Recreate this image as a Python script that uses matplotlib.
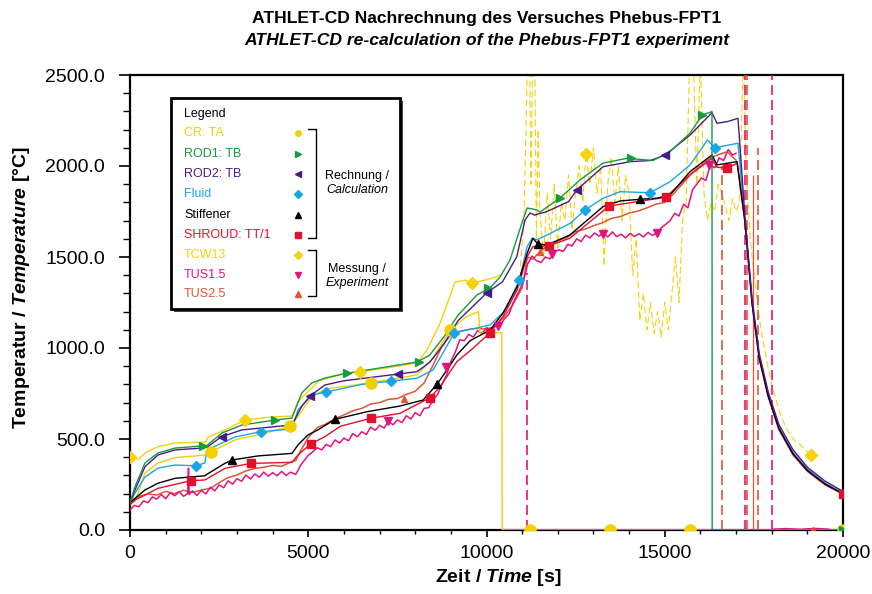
import matplotlib
matplotlib.use("Agg")
import matplotlib.pyplot as plt
from matplotlib.patches import Rectangle
from matplotlib.ticker import MultipleLocator, FormatStrFormatter

plt.rcParams['font.family'] = ['Liberation Sans', 'DejaVu Sans']
plt.rcParams['mathtext.fontset'] = 'custom'
plt.rcParams['mathtext.rm'] = 'Liberation Sans'
plt.rcParams['mathtext.it'] = 'Liberation Sans:italic'
plt.rcParams['mathtext.bf'] = 'Liberation Sans:bold'
plt.rcParams['mathtext.bfit'] = 'Liberation Sans:italic:bold'

W, H = 872, 594

# ---- data: (time [s], temperature [C]) ----
cr_ta = [(0, 150), (140, 156), (420, 313), (785, 368), (1260, 397), (2100, 412),
         (2190, 425), (2270, 430), (2945, 495), (3800, 533), (4490, 571), (4700, 620),
         (5100, 733), (5500, 775), (6750, 809), (8050, 852), (8500, 945), (8980, 1099),
         (9440, 1172), (9780, 1200), (9810, 1082), (10430, 1085), (10440, 0), (20000, 0)]

rod1 = [(0, 150), (140, 238), (420, 368), (785, 423), (1260, 450), (2020, 462),
        (2160, 465), (2580, 533), (3140, 577), (4070, 604), (4540, 615), (4820, 753),
        (5100, 808), (5470, 835), (5975, 857), (7000, 890), (8050, 923), (8400, 960),
        (8800, 1060), (9200, 1180), (9730, 1291), (10100, 1330), (10380, 1390),
        (10660, 1484), (11020, 1703), (11140, 1769), (11280, 1764), (11420, 1758),
        (11500, 1747), (12060, 1824), (12620, 1923), (13270, 2016), (13940, 2042),
        (14670, 2030), (15150, 2079), (15710, 2181), (16050, 2280), (16325, 2299),
        (16330, 0), (20000, 0)]

rod2 = [(0, 150), (140, 220), (420, 348), (785, 412), (1260, 440), (2020, 450),
        (2160, 455), (2570, 513), (3140, 550), (4540, 577), (4820, 680), (5050, 736),
        (5470, 797), (6000, 820), (7527, 857), (8050, 870), (8400, 920), (8800, 1020),
        (9200, 1150), (9730, 1250), (10015, 1304), (10450, 1364), (10850, 1502),
        (11080, 1703), (11220, 1742), (11350, 1730), (11500, 1740), (11640, 1745),
        (12300, 1804), (12530, 1868), (13270, 1996), (14030, 2024), (14600, 2030),
        (15010, 2060), (15710, 2170), (16325, 2293), (16465, 2235), (16760, 2244),
        (17054, 2262), (17250, 1720), (17450, 1270), (17650, 970), (17900, 760),
        (18200, 580), (18600, 440), (19000, 345), (19500, 268), (20000, 212)]

fluid = [(0, 150), (140, 203), (420, 291), (785, 340), (1262, 357), (1840, 353),
         (2100, 368), (2160, 440), (2945, 511), (3665, 540), (4545, 555), (4710, 659),
         (5105, 742), (5500, 758), (6500, 800), (7310, 818), (8050, 834), (8500, 879),
         (8800, 980), (9090, 1081), (9450, 1099), (9730, 1110), (10100, 1127),
         (10540, 1209), (10920, 1374), (11140, 1557), (11280, 1603), (11420, 1595),
         (11700, 1621), (12350, 1685), (12760, 1758), (13270, 1823), (13750, 1859),
         (14590, 1853), (15150, 1914), (15710, 2006), (16200, 2143), (16410, 2097),
         (16550, 2106), (17054, 2125), (17250, 1705), (17450, 1255), (17650, 955),
         (17900, 745), (18200, 565), (18600, 425), (19000, 335), (19500, 258), (20000, 203)]

stiffener = [(0, 150), (140, 174), (420, 220), (785, 257), (1262, 284), (2100, 298),
             (2190, 310), (2660, 366), (2870, 385), (3590, 407), (4545, 421), (4710, 467),
             (4990, 522), (5270, 550), (5750, 608), (6650, 650), (7570, 681), (8220, 714),
             (8610, 800), (8890, 879), (9170, 962), (9540, 1040), (10100, 1099),
             (10460, 1191), (10860, 1337), (11140, 1520), (11300, 1603), (11440, 1572),
             (11700, 1566), (12340, 1621), (13270, 1777), (13750, 1808), (14300, 1817),
             (14780, 1823), (15150, 1841), (15710, 1969), (16325, 2061), (16465, 2006),
             (16750, 2015), (17030, 2024), (17250, 1695), (17450, 1245), (17650, 945),
             (17900, 738), (18200, 558), (18600, 418), (19000, 328), (19500, 252), (20000, 199)]

shroud = [(0, 140), (140, 165), (420, 192), (785, 229), (1711, 271), (2100, 275),
          (2190, 285), (2665, 339), (3385, 366), (4545, 372), (4712, 412), (5068, 473),
          (5470, 513), (5900, 570), (6760, 614), (7570, 641), (8415, 727), (8700, 788),
          (9170, 925), (9620, 998), (10098, 1084), (10460, 1172), (10860, 1319),
          (11140, 1502), (11300, 1557), (11750, 1562), (12340, 1603), (13435, 1780),
          (14220, 1804), (15025, 1828), (15710, 1951), (16325, 2042), (16465, 1993),
          (16755, 1988), (17030, 2015), (17250, 1690), (17450, 1240), (17650, 940),
          (17900, 732), (18200, 552), (18600, 412), (19000, 322), (19500, 248), (20000, 197)]

tcw13 = [(0, 403), (240, 388), (420, 423), (785, 458), (1260, 478), (2100, 483),
         (2190, 510), (2660, 550), (3226, 604), (3900, 620), (4545, 626), (4710, 705),
         (4990, 760), (5300, 820), (6000, 860), (6450, 870), (7200, 890), (8050, 918),
         (8330, 989), (8700, 1137), (9120, 1362), (9400, 1373), (9590, 1357),
         (10100, 1380), (10380, 1400)]

tcw13_late = [(10950, 1450), (11050, 1700), (11150, 2600), (11200, 2700), (11250, 1900),
              (11300, 2700), (11350, 2650), (11400, 1600), (11450, 2200), (11500, 1750),
              (11600, 1500), (11700, 1850), (11800, 1600), (11900, 1900), (12000, 1550),
              (12100, 1800), (12200, 1700), (12300, 1950), (12400, 1650), (12500, 1850),
              (12600, 2000), (12700, 1800), (12790, 2066), (12900, 1900), (13000, 2100),
              (13100, 1850), (13200, 2000), (13300, 1450), (13400, 1900), (13500, 2050),
              (13600, 1800), (13700, 2000), (13800, 1700), (13900, 1950), (14000, 1850),
              (14100, 1400), (14200, 1600), (14300, 1150), (14400, 1300), (14500, 1100),
              (14600, 1250), (14700, 1080), (14800, 1200), (14900, 1060), (15000, 1250),
              (15100, 1100), (15200, 1300), (15300, 1500), (15400, 1250), (15500, 1700),
              (15600, 1800), (15700, 2600), (15800, 2600), (15900, 1900), (16000, 2600),
              (16100, 1850), (16200, 1700), (16300, 1800), (16400, 1750), (16500, 1900),
              (16600, 1850), (16700, 1780), (16800, 1700), (16900, 1820), (17000, 1750),
              (17100, 1800), (17200, 2600), (17300, 1900), (17400, 1600), (17500, 1412),
              (17600, 1250), (17700, 1100), (17850, 940), (18000, 800), (18200, 660),
              (18400, 560), (18600, 500), (18800, 470), (19000, 430), (19100, 412)]

tus15 = [(0, 110), (120, 135), (250, 128), (380, 160), (500, 150), (630, 182), (750, 170),
         (880, 195), (1000, 172), (1130, 205), (1250, 188), (1380, 210), (1500, 185),
         (1620, 200), (1640, 340), (1660, 195), (1750, 215), (1880, 190), (2000, 218),
         (2130, 198), (2250, 235), (2380, 215), (2500, 248), (2630, 232), (2750, 270),
         (2880, 252), (3000, 282), (3130, 268), (3250, 302), (3380, 280), (3500, 308),
         (3630, 290), (3750, 318), (3880, 296), (4000, 315), (4130, 298), (4250, 322),
         (4380, 300), (4500, 318), (4650, 305), (4800, 360), (4900, 385), (5000, 410),
         (5130, 430), (5250, 452), (5380, 440), (5500, 470), (5630, 458), (5750, 495),
         (5880, 478), (6000, 505), (6130, 490), (6250, 530), (6380, 512), (6500, 540),
         (6630, 525), (6750, 565), (6880, 548), (7000, 575), (7130, 560), (7250, 598),
         (7380, 578), (7500, 605), (7630, 590), (7750, 628), (7880, 610), (8000, 645),
         (8130, 628), (8250, 668), (8380, 672), (8500, 715), (8630, 745), (8750, 800),
         (8880, 850), (9000, 925), (9130, 980), (9250, 1045), (9380, 1040), (9500, 1075),
         (9630, 1060), (9750, 1095), (9880, 1080), (10000, 1112), (10130, 1098),
         (10250, 1125), (10380, 1118), (10500, 1160), (10630, 1185), (10750, 1250),
         (10880, 1300), (11000, 1350), (11100, 1412), (11150, 1460), (11280, 1505),
         (11400, 1480), (11530, 1470), (11650, 1500), (11780, 1490), (11900, 1525),
         (12030, 1540), (12150, 1530), (12280, 1570), (12400, 1560), (12530, 1600),
         (12650, 1585), (12780, 1620), (12900, 1605), (13030, 1632), (13150, 1615),
         (13280, 1630), (13400, 1610), (13530, 1638), (13650, 1612), (13780, 1625),
         (13900, 1605), (14030, 1630), (14150, 1612), (14280, 1628), (14400, 1610),
         (14530, 1635), (14650, 1618), (14780, 1632), (14900, 1660), (15030, 1680),
         (15150, 1700), (15280, 1740), (15400, 1725), (15530, 1790), (15650, 1770),
         (15780, 1870), (15900, 1900), (16030, 1935), (16150, 1920), (16280, 2005),
         (16400, 1990), (16530, 2045), (16650, 2030), (16780, 2090), (16900, 2060),
         (17000, 2070)]

tus25 = [(0, 140), (250, 185), (500, 198), (750, 192), (1000, 212), (1250, 200),
         (1500, 218), (1750, 206), (2000, 220), (2250, 228), (2500, 260), (2750, 288),
         (3000, 302), (3250, 325), (3500, 338), (3750, 345), (4000, 355), (4250, 350),
         (4500, 372), (4650, 382), (4800, 440), (5000, 508), (5250, 562), (5500, 583),
         (5750, 612), (6000, 632), (6250, 655), (6500, 668), (6750, 692), (7000, 700),
         (7250, 718), (7500, 722), (7750, 745), (8000, 762), (8250, 808), (8500, 905),
         (8750, 1010), (9000, 1072), (9250, 1092), (9500, 1102), (9750, 1108),
         (10000, 1104), (10250, 1118), (10500, 1172), (10750, 1242), (11000, 1330),
         (11150, 1500), (11300, 1488), (11500, 1530), (11750, 1568), (12000, 1588),
         (12250, 1606), (12500, 1640), (12750, 1652), (13000, 1672), (13250, 1688),
         (13500, 1712), (13750, 1722), (14000, 1742), (14250, 1752), (14500, 1770),
         (14750, 1790), (15000, 1800), (15250, 1848), (15500, 1902), (15750, 1960),
         (16000, 2000), (16250, 2042), (16500, 2062), (16750, 2078), (17000, 2032)]

# sensor drop-outs (time, top of the dashed vertical)
tus15_drops = [(11125, 1412), (17250, 2600), (18000, 2600)]
tus25_drops = [(16615, 2000), (17315, 2600), (17615, 2100)]
tus25_spike = [(17485, 1950)]
tus_tail = [(18050, 5), (18400, 8), (18800, 4), (19200, 9), (19600, 5)]

# marker positions
cr_marks = [(2270, 430), (4490, 571), (6750, 809), (8980, 1099), (11220, 0),
            (13460, 0), (15700, 0), (20000, 0)]
rod1_marks = [(2050, 462), (4060, 604), (6080, 862), (8100, 925), (10040, 1330),
              (12060, 1824), (14040, 2042), (16040, 2280), (20000, 0)]
rod2_marks = [(2570, 513), (5050, 736), (7527, 857), (10015, 1304), (12530, 1868),
              (15010, 2060), (20000, 212)]
fluid_marks = [(1840, 353), (3665, 540), (5500, 758), (7310, 818), (9090, 1081),
               (10920, 1374), (12760, 1758), (14590, 1853), (16410, 2097)]
stiff_marks = [(2870, 385), (5750, 608), (8600, 800), (11455, 1572), (14300, 1817)]
shroud_marks = [(1711, 271), (3385, 366), (5068, 473), (6760, 614), (8415, 727),
                (10098, 1084), (11750, 1562), (13435, 1780), (15025, 1828),
                (16755, 1988), (20000, 197)]
tcw_marks = [(0, 403), (3226, 604), (6450, 870), (9590, 1357), (12790, 2066), (19100, 412)]
tus15_marks = [(7250, 598), (8850, 898), (10330, 1121), (11830, 1515), (13280, 1625),
               (14775, 1630), (16240, 2005)]
tus25_marks = [(7690, 720), (11500, 1529), (19160, 0)]

# ---- styles ----
C_CR = '#f2cf00'
C_ROD1 = '#17993e'
C_ROD2 = '#4a1a8c'
C_FLUID = '#1aa6e6'
C_STIFF = '#000000'
C_SHROUD = '#e3102c'
C_TCW = '#f5d20a'
C_TUS15 = '#e2147c'
C_TUS25 = '#e05538'

legend_rows = [
    ('CR: TA', C_CR, 'o'),
    ('ROD1: TB', C_ROD1, '>'),
    ('ROD2: TB', C_ROD2, '<'),
    ('Fluid', C_FLUID, 'D'),
    ('Stiffener', C_STIFF, '^'),
    ('SHROUD: TT/1', C_SHROUD, 's'),
    ('TCW13', C_TCW, 'D'),
    ('TUS1.5', C_TUS15, 'v'),
    ('TUS2.5', C_TUS25, '^'),
]


def xy(pairs):
    return [p[0] for p in pairs], [p[1] for p in pairs]


fig = plt.figure(figsize=(W / 100, H / 100), dpi=100)
ax = fig.add_axes([130 / W, 1 - 530 / H, 713 / W, 455 / H])

dash = (0, (6, 3))
ax.plot(*xy(tcw13_late), color=C_TCW, lw=0.8, ls=dash, zorder=2)
ax.plot(*xy(tus25), color=C_TUS25, lw=1.1, zorder=3)
ax.plot(*xy(tus15), color=C_TUS15, lw=1.1, zorder=3)
ax.plot(*xy(tus_tail), color=C_TUS15, lw=1.0, zorder=3)
t, v = xy(tus15_drops)
ax.vlines(t, 0, v, colors=C_TUS15, linestyles=dash, lw=1.2, zorder=3)
t, v = xy(tus25_drops)
ax.vlines(t, 0, v, colors=C_TUS25, linestyles=dash, lw=1.2, zorder=3)
t, v = xy(tus25_spike)
ax.vlines(t, 0, v, colors=C_TUS25, lw=0.9, zorder=3)
ax.plot(*xy(tcw13), color=C_TCW, lw=1.0, zorder=4)

for data, col in [(cr_ta, C_CR), (fluid, C_FLUID), (shroud, C_SHROUD),
                  (stiffener, C_STIFF), (rod2, C_ROD2), (rod1, C_ROD1)]:
    ax.plot(*xy(data), color=col, lw=1.0, zorder=5)

marker_sets = [(cr_marks, C_CR, 'o', 8), (rod1_marks, C_ROD1, '>', 6),
               (rod2_marks, C_ROD2, '<', 6), (fluid_marks, C_FLUID, 'D', 5.5),
               (stiff_marks, C_STIFF, '^', 6), (shroud_marks, C_SHROUD, 's', 6),
               (tcw_marks, C_TCW, 'D', 6), (tus15_marks, C_TUS15, 'v', 6),
               (tus25_marks, C_TUS25, '^', 5)]
for data, col, m, ms in marker_sets:
    ax.plot(*xy(data), ls='none', marker=m, ms=ms, color=col, mec=col, zorder=6)

ax.set_xlim(0, 20000)
ax.set_ylim(0, 2500)
ax.xaxis.set_major_locator(MultipleLocator(5000))
ax.xaxis.set_minor_locator(MultipleLocator(1000))
ax.yaxis.set_major_locator(MultipleLocator(500))
ax.yaxis.set_minor_locator(MultipleLocator(100))
ax.yaxis.set_major_formatter(FormatStrFormatter('%.1f'))
ax.tick_params(axis='x', which='major', direction='out', length=5, width=1.2,
               labelsize=14, pad=6)
ax.tick_params(axis='x', which='minor', direction='out', length=3, width=1.0)
ax.tick_params(axis='y', which='major', direction='out', length=8, width=1.2,
               labelsize=14, pad=10)
ax.tick_params(axis='y', which='minor', direction='out', length=5, width=1.0)
for s in ax.spines.values():
    s.set_linewidth(1.6)

fig.text(486.5 / W, 1 - 18 / H, 'ATHLET-CD Nachrechnung des Versuches Phebus-FPT1',
         ha='center', va='center', fontsize=12.6, fontweight='bold')
fig.text(486.5 / W, 1 - 40 / H, 'ATHLET-CD re-calculation of the Phebus-FPT1 experiment',
         ha='center', va='center', fontsize=12.6, fontweight='bold', style='italic')
fig.text(498 / W, 1 - 578 / H, r'Zeit / $\mathbfit{Time}$ [s]',
         ha='center', va='center', fontsize=14, fontweight='bold')
fig.text(22 / W, 1 - 288 / H, r'Temperatur / $\mathbfit{Temperature}$ [°C]',
         ha='center', va='center', fontsize=14, fontweight='bold', rotation=90)

# ---- hand made legend box ----
lax = fig.add_axes([171 / W, 1 - 309 / H, 229 / W, 211 / H])
lax.set_xlim(0, 229)
lax.set_ylim(211, 0)
lax.axis('off')
lax.add_patch(Rectangle((3, 3), 229, 211, facecolor='#444444', edgecolor='none',
                        clip_on=False, zorder=0))
lax.add_patch(Rectangle((0, 0), 229, 211, facecolor='white', edgecolor='black',
                        lw=2, clip_on=False, zorder=1))
lax.text(13, 16, 'Legend', fontsize=9, va='center', zorder=2)
row_y = [35, 56, 76, 96, 117, 137, 157, 177, 196]
for (name, col, m), y in zip(legend_rows, row_y):
    lax.text(13, y, name, color=col, fontsize=9, va='center', zorder=2)
    lax.plot([127], [y], marker=m, ms=4, color=col, ls='none', zorder=2, clip_on=False)
for y0, y1 in [(31, 140), (152, 198)]:
    lax.plot([137, 145, 145, 137], [y0, y0, y1, y1], color='black', lw=1.0,
             zorder=2, clip_on=False)
lax.text(186, 78, 'Rechnung /', fontsize=9, ha='center', va='center', zorder=2)
lax.text(186, 92, 'Calculation', fontsize=9, ha='center', va='center',
         style='italic', zorder=2)
lax.text(186, 171, 'Messung /', fontsize=9, ha='center', va='center', zorder=2)
lax.text(186, 185, 'Experiment', fontsize=9, ha='center', va='center',
         style='italic', zorder=2)

fig.savefig('out.png', dpi=100)
